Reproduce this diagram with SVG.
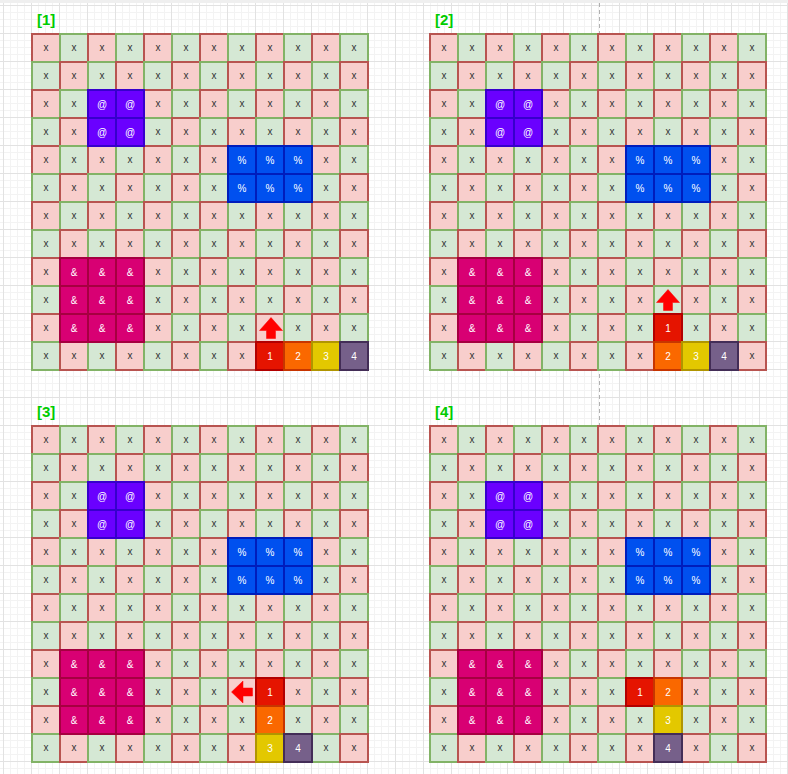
<svg xmlns="http://www.w3.org/2000/svg" width="788" height="774" viewBox="0 0 788 774">
<style>
.pk{fill:#f8cecc;stroke:#b85450;stroke-width:2}
.gr{fill:#d5e8d4;stroke:#82b366;stroke-width:2}
.tx{font-family:"Liberation Sans",Arial,sans-serif;font-size:10px;fill:#333333;text-anchor:middle}
.wt{font-family:"Liberation Sans",Arial,sans-serif;font-size:10px;fill:#ffffff;text-anchor:middle}
.lb{font-family:"Liberation Sans",Arial,sans-serif;font-size:15px;font-weight:bold;fill:#00cc00}
.at{fill:#6a00ff;stroke:#3700cc;stroke-width:2}
.pc{fill:#0050ef;stroke:#001dbc;stroke-width:2}
.am{fill:#d80073;stroke:#a50040;stroke-width:2}
.n1{fill:#e51400;stroke:#b20000;stroke-width:2}
.n2{fill:#fa6800;stroke:#c73500;stroke-width:2}
.n3{fill:#e3c800;stroke:#b09500;stroke-width:2}
.n4{fill:#76608a;stroke:#432d57;stroke-width:2}
.ar{fill:#ff0000;stroke:#ff0000;stroke-width:0.5}
</style>
<defs>
<pattern id="grid" x="3" y="5" width="28" height="28" patternUnits="userSpaceOnUse">
<path d="M7.5 0V28M14.5 0V28M21.5 0V28M0 7.5H28M0 14.5H28M0 21.5H28" stroke="#f3f3f3" stroke-width="1" fill="none"/>
<path d="M0.5 0V28M0 0.5H28" stroke="#e2e2e2" stroke-width="1" fill="none"/>
</pattern>
<g id="rowA">
<rect class="pk" x="0" width="28" height="28"/><rect class="gr" x="28" width="28" height="28"/><rect class="pk" x="56" width="28" height="28"/><rect class="gr" x="84" width="28" height="28"/><rect class="pk" x="112" width="28" height="28"/><rect class="gr" x="140" width="28" height="28"/><rect class="pk" x="168" width="28" height="28"/><rect class="gr" x="196" width="28" height="28"/><rect class="pk" x="224" width="28" height="28"/><rect class="gr" x="252" width="28" height="28"/><rect class="pk" x="280" width="28" height="28"/><rect class="gr" x="308" width="28" height="28"/>
<text class="tx" x="14 42 70 98 126 154 182 210 238 266 294 322" y="16.8">xxxxxxxxxxxx</text>
</g>
<g id="rowB">
<rect class="gr" x="0" width="28" height="28"/><rect class="pk" x="28" width="28" height="28"/><rect class="gr" x="56" width="28" height="28"/><rect class="pk" x="84" width="28" height="28"/><rect class="gr" x="112" width="28" height="28"/><rect class="pk" x="140" width="28" height="28"/><rect class="gr" x="168" width="28" height="28"/><rect class="pk" x="196" width="28" height="28"/><rect class="gr" x="224" width="28" height="28"/><rect class="pk" x="252" width="28" height="28"/><rect class="gr" x="280" width="28" height="28"/><rect class="pk" x="308" width="28" height="28"/>
<text class="tx" x="14 42 70 98 126 154 182 210 238 266 294 322" y="16.8">xxxxxxxxxxxx</text>
</g>
<g id="board">
<use href="#rowA" y="0"/><use href="#rowB" y="28"/><use href="#rowA" y="56"/><use href="#rowB" y="84"/><use href="#rowA" y="112"/><use href="#rowB" y="140"/><use href="#rowA" y="168"/><use href="#rowB" y="196"/><use href="#rowA" y="224"/><use href="#rowB" y="252"/><use href="#rowA" y="280"/><use href="#rowB" y="308"/>
</g>
<g id="fixed">
<g id="at-block">
<rect class="at" x="56" y="56" width="28" height="28"/><rect class="at" x="84" y="56" width="28" height="28"/><rect class="at" x="56" y="84" width="28" height="28"/><rect class="at" x="84" y="84" width="28" height="28"/>
<text class="wt" x="70 98" y="73.5">@@</text><text class="wt" x="70 98" y="101.5">@@</text>
</g>
<g id="pct-block">
<rect class="pc" x="196" y="112" width="28" height="28"/><rect class="pc" x="224" y="112" width="28" height="28"/><rect class="pc" x="252" y="112" width="28" height="28"/><rect class="pc" x="196" y="140" width="28" height="28"/><rect class="pc" x="224" y="140" width="28" height="28"/><rect class="pc" x="252" y="140" width="28" height="28"/>
<text class="wt" x="210 238 266" y="129.5">%%%</text><text class="wt" x="210 238 266" y="157.5">%%%</text>
</g>
<g id="amp-block">
<rect class="am" x="28" y="224" width="28" height="28"/><rect class="am" x="56" y="224" width="28" height="28"/><rect class="am" x="84" y="224" width="28" height="28"/><rect class="am" x="28" y="252" width="28" height="28"/><rect class="am" x="56" y="252" width="28" height="28"/><rect class="am" x="84" y="252" width="28" height="28"/><rect class="am" x="28" y="280" width="28" height="28"/><rect class="am" x="56" y="280" width="28" height="28"/><rect class="am" x="84" y="280" width="28" height="28"/>
<text class="wt" x="42 70 98" y="241.5">&amp;&amp;&amp;</text><text class="wt" x="42 70 98" y="269.5">&amp;&amp;&amp;</text><text class="wt" x="42 70 98" y="297.5">&amp;&amp;&amp;</text>
</g>
</g>
<path id="arUp" class="ar" d="M0 -10.5L11.5 2.5L4.5 2.5L4.5 10.5L-4.5 10.5L-4.5 2.5L-11.5 2.5Z"/>
<path id="arLeft" class="ar" d="M-10.5 0L1 -11L1 -4L10.5 -4L10.5 4L1 4L1 11Z"/>
</defs>
<rect width="788" height="774" fill="#ffffff"/>
<rect width="788" height="774" fill="url(#grid)"/>
<rect x="0" y="0" width="788" height="3" fill="#efefef"/>
<line x1="599.5" y1="3" x2="599.5" y2="426" stroke="#b0b0b0" stroke-width="1" stroke-dasharray="4 3"/>

<g id="panel1" transform="translate(32,34)">
<text class="lb" x="5" y="-9">[1]</text>
<use href="#board"/>
<use href="#fixed"/>
<g id="p1-cell1"><rect class="n1" x="224" y="308" width="28" height="28"/><text class="wt" x="238" y="325.5">1</text></g>
<g id="p1-cell2"><rect class="n2" x="252" y="308" width="28" height="28"/><text class="wt" x="266" y="325.5">2</text></g>
<g id="p1-cell3"><rect class="n3" x="280" y="308" width="28" height="28"/><text class="wt" x="294" y="325.5">3</text></g>
<g id="p1-cell4"><rect class="n4" x="308" y="308" width="28" height="28"/><text class="wt" x="322" y="325.5">4</text></g>
<g id="p1-arrow"><use href="#arUp" x="239" y="294"/></g>
</g>

<g id="panel2" transform="translate(430,34)">
<text class="lb" x="5" y="-9">[2]</text>
<use href="#board"/>
<use href="#fixed"/>
<g id="p2-cell1"><rect class="n1" x="224" y="280" width="28" height="28"/><text class="wt" x="238" y="297.5">1</text></g>
<g id="p2-cell2"><rect class="n2" x="224" y="308" width="28" height="28"/><text class="wt" x="238" y="325.5">2</text></g>
<g id="p2-cell3"><rect class="n3" x="252" y="308" width="28" height="28"/><text class="wt" x="266" y="325.5">3</text></g>
<g id="p2-cell4"><rect class="n4" x="280" y="308" width="28" height="28"/><text class="wt" x="294" y="325.5">4</text></g>
<g id="p2-arrow"><use href="#arUp" x="238" y="266"/></g>
</g>

<g id="panel3" transform="translate(32,426)">
<text class="lb" x="5" y="-9">[3]</text>
<use href="#board"/>
<use href="#fixed"/>
<g id="p3-cell1"><rect class="n1" x="224" y="252" width="28" height="28"/><text class="wt" x="238" y="269.5">1</text></g>
<g id="p3-cell2"><rect class="n2" x="224" y="280" width="28" height="28"/><text class="wt" x="238" y="297.5">2</text></g>
<g id="p3-cell3"><rect class="n3" x="224" y="308" width="28" height="28"/><text class="wt" x="238" y="325.5">3</text></g>
<g id="p3-cell4"><rect class="n4" x="252" y="308" width="28" height="28"/><text class="wt" x="266" y="325.5">4</text></g>
<g id="p3-arrow"><use href="#arLeft" x="210" y="266"/></g>
</g>

<g id="panel4" transform="translate(430,426)">
<text class="lb" x="5" y="-9">[4]</text>
<use href="#board"/>
<use href="#fixed"/>
<g id="p4-cell1"><rect class="n1" x="196" y="252" width="28" height="28"/><text class="wt" x="210" y="269.5">1</text></g>
<g id="p4-cell2"><rect class="n2" x="224" y="252" width="28" height="28"/><text class="wt" x="238" y="269.5">2</text></g>
<g id="p4-cell3"><rect class="n3" x="224" y="280" width="28" height="28"/><text class="wt" x="238" y="297.5">3</text></g>
<g id="p4-cell4"><rect class="n4" x="224" y="308" width="28" height="28"/><text class="wt" x="238" y="325.5">4</text></g>
</g>
<g id="connectors"/>
</svg>
